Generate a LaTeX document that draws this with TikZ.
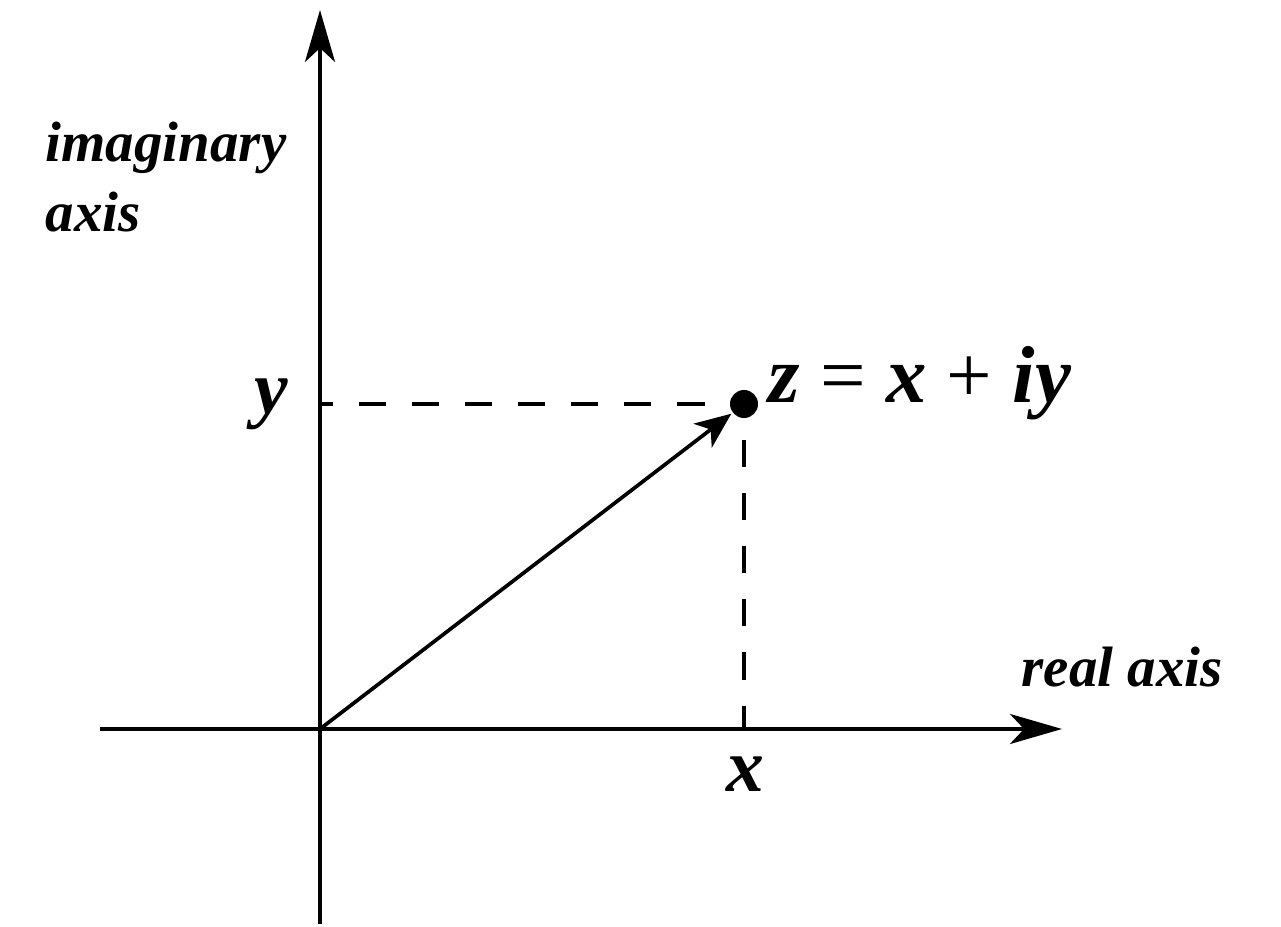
\documentclass[tikz,border=0pt]{standalone}
\usepackage{fontspec}
\setmainfont{Liberation Serif}
\usetikzlibrary{arrows.meta}

\begin{document}
\begin{tikzpicture}[>={Stealth[length=5.2mm, width=3mm, inset=1.4mm]}, line width=1.05pt,
  etiq/.style={font=\bfseries\itshape\fontsize{16.2}{19.9}\selectfont, inner sep=0pt},
  grande/.style={font=\bfseries\itshape\fontsize{21.5}{26}\selectfont, inner sep=0pt},
  trazos/.style={line width=0.95pt, dash pattern=on 7.7pt off 7.4pt}]
  \useasboundingbox (0,0) rectangle (12.81,9.26);
  % origen y punto z
  \coordinate (O) at (3.20,1.97);
  \coordinate (Z) at (7.44,5.22);
  \coordinate (Xe) at (10.62,1.97); \coordinate (Xw) at (1.00,1.97);
  \coordinate (Yn) at (3.20,9.16);  \coordinate (Ys) at (3.20,0.02);
  % ejes real e imaginario
  \draw[->] (Xw)--(Xe);
  \draw[->] (Ys)--(Yn);
  % proyecciones (lineas a trazos)
  \draw[trazos, dash phase=4pt] (O|-Z)--(Z);
  \draw[trazos, dash phase=4.8pt] (Z)--(Z|-O);
  % el vector y el punto
  \fill (Z) circle (0.14);
  \draw[-{Stealth[length=3.6mm, width=3mm, inset=1mm]}, shorten >=1.6mm] (O)--(Z);
  % rotulos
  \node[grande, anchor=base] (ly) at (2.71,5.12) {y};
  \node[grande, anchor=base] (lx) at (7.45,1.34) {x};
  \node[grande, font=\bfseries\itshape\fontsize{23}{27}\selectfont, anchor=base west] (lz) at (7.67,5.23)
    {z {\normalfont\mdseries\upshape=} x {\normalfont\mdseries\upshape+} iy};
  \node[etiq, anchor=north west, align=left] (eim) at (0.44,8.06) {imaginary\\axis};
  \node[etiq, anchor=base] (ere) at (11.22,2.39) {real axis};
\end{tikzpicture}
\end{document}
